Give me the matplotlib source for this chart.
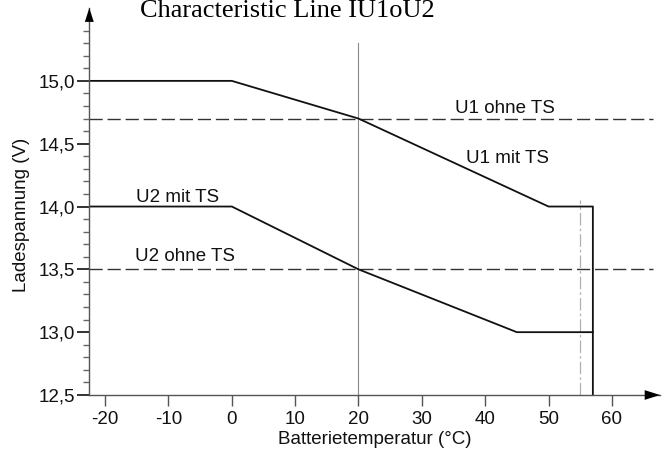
import matplotlib.pyplot as plt
import numpy as np
from matplotlib.ticker import FixedLocator, FuncFormatter

# characteristic curves (temperature in degC, voltage in V)
u1_temp = [-22.5, 0, 20, 50, 57, 57]
u1_volt = [15.0, 15.0, 14.7, 14.0, 14.0, 12.5]
u2_temp = [-22.5, 0, 20, 45, 57]
u2_volt = [14.0, 14.0, 13.5, 13.0, 13.0]

u1_ohne = 14.7
u2_ohne = 13.5

x_ticks = [-20, -10, 0, 10, 20, 30, 40, 50, 60]
y_major = [12.5, 13.0, 13.5, 14.0, 14.5, 15.0]
y_minor = [v / 10 for v in range(126, 155) if v % 5 != 0]

labels = ['U1 ohne TS', 'U1 mit TS', 'U2 mit TS', 'U2 ohne TS']
label_x = [43.1, 43.6, -8.5, -7.4]
label_y = [14.78, 14.385, 14.075, 13.606]

plt.rcParams['font.family'] = ['Liberation Sans', 'DejaVu Sans']
plt.rcParams['axes.unicode_minus'] = False

fs = 13.5

fig = plt.figure(figsize=(6.66, 4.53), dpi=100)
ax = fig.add_axes([89.3 / 666, 58 / 453, 570.7 / 666, 387 / 453])
ax.set_xlim(-22.5, 67.6)
ax.set_ylim(12.5, 15.58)

# reference lines
ax.plot([20, 20], [12.5, 15.3], color='#8a8a8a', lw=0.8)
ax.plot([55, 55], [12.5, 14.05], color='#b0b0b0', lw=0.9, linestyle=(0, (10, 2.5, 2, 2.5)))
ax.plot([-22.5, 66.5], [u1_ohne, u1_ohne], color='#333333', lw=1.0, linestyle=(0, (9.5, 3.5)))
ax.plot([-22.5, 66.5], [u2_ohne, u2_ohne], color='#333333', lw=1.0, linestyle=(0, (9.5, 3.5)))

ax.plot(u1_temp, u1_volt, color='#111111', lw=1.3)
ax.plot(u2_temp, u2_volt, color='#111111', lw=1.3)

for t, xx, yy in zip(labels, label_x, label_y):
    ax.text(xx, yy, t, ha='center', va='center', fontsize=fs, color='#111111')

# axes look
for s in ['top', 'right']:
    ax.spines[s].set_visible(False)
for s in ['left', 'bottom']:
    ax.spines[s].set_color('#555555')
    ax.spines[s].set_linewidth(1.0)

ax.annotate('', xy=(1.0, 0), xytext=(0.955, 0), xycoords='axes fraction',
            arrowprops=dict(arrowstyle='-|>,head_length=1.1,head_width=0.35',
                            color='black', lw=0.01, shrinkA=0, shrinkB=0))
ax.annotate('', xy=(0, 1.0), xytext=(0, 0.94), xycoords='axes fraction',
            arrowprops=dict(arrowstyle='-|>,head_length=1.0,head_width=0.32',
                            color='black', lw=0.01, shrinkA=0, shrinkB=0))

ax.xaxis.set_major_locator(FixedLocator(x_ticks))
ax.yaxis.set_major_locator(FixedLocator(y_major))
ax.yaxis.set_minor_locator(FixedLocator(y_minor))
ax.yaxis.set_major_formatter(FuncFormatter(lambda v, p: f'{v:.1f}'.replace('.', ',')))

ax.tick_params(axis='x', direction='out', length=8, width=1.0, color='#555555',
               labelsize=fs, labelcolor='#111111', pad=3.5)
ax.tick_params(axis='y', which='major', direction='out', length=9, width=1.3,
               color='#222222', labelsize=fs, labelcolor='#111111', pad=1)
ax.tick_params(axis='y', which='minor', direction='out', length=4.5, width=1.0,
               color='#666666')

ax.set_xlabel('Batterietemperatur (°C)', fontsize=fs, color='#111111', va='center')
ax.xaxis.set_label_coords(0.5, -0.116)
ax.set_ylabel('Ladespannung (V)', fontsize=fs, color='#111111', va='center')
ax.yaxis.set_label_coords(-0.118, 0.465)

fig.text(287 / 666, 1 - 11 / 453, 'Characteristic Line IU1oU2', ha='center', va='center',
         fontsize=19, family='Liberation Serif')

fig.savefig('out.png', dpi=100)
